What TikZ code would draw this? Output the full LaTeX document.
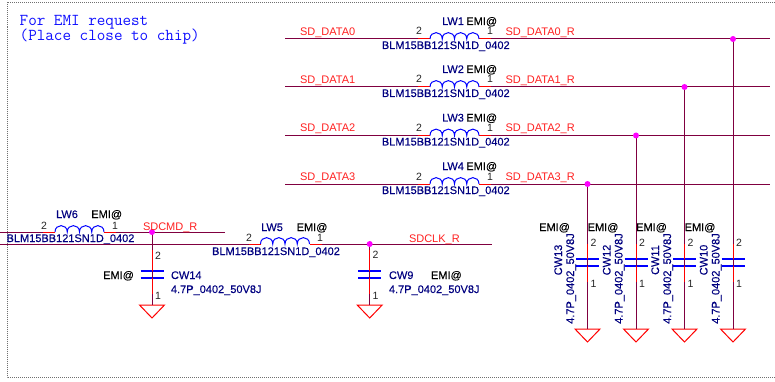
\documentclass[tikz,border=0pt]{standalone}
\usepackage{fontspec}
\setmainfont{Liberation Sans}
\newfontfamily\lblfont[FakeBold=0.12]{Liberation Sans}
\definecolor{wirec}{HTML}{800040}
\definecolor{pinred}{HTML}{FF0000}
\definecolor{netred}{HTML}{FF2020}
\definecolor{partblue}{HTML}{000080}
\definecolor{coilblue}{HTML}{0000FF}
\definecolor{framec}{HTML}{707070}
\definecolor{notec}{HTML}{1010FF}
\definecolor{junc}{HTML}{FF00FF}
\tikzset{
  x=1pt,y=-1pt,
  lbl/.style={inner sep=0pt,outer sep=0pt,text height=8pt,text depth=0pt,font=\fontsize{11}{11}\selectfont},
  refd/.style={lbl,text=partblue,font=\lblfont\fontsize{11}{11}\selectfont},
  emi/.style={lbl,text=black,font=\lblfont\fontsize{11}{11}\selectfont},
  pinno/.style={lbl,text=black!85,font=\fontsize{10.5}{11}\selectfont},
  netl/.style={lbl,text=netred,anchor=west},
  wire/.style={draw=wirec,line width=1pt},
  pinline/.style={draw=pinred,line width=1pt},
  coilline/.style={draw=coilblue,line width=1pt},
  plate/.style={draw=coilblue,line width=1.4pt},
  gnd/.style={draw=pinred,line width=1pt,line join=miter},
  dot/.style={circle,fill=junc,inner sep=0pt,minimum size=6pt},
  frameline/.style={draw=framec,line width=1pt,dash pattern=on 1pt off 1pt},
  notetxt/.style={anchor=west,inner sep=0pt,text=notec,font=\ttfamily\fontsize{16.65}{16}\selectfont}
}
% name, left pin x, y
\newcommand{\inductor}[3]{%
  \coordinate (#1-p2) at (#2,#3);
  \coordinate (#1-a) at (#2+12,#3);
  \coordinate (#1-b) at (#2+61,#3);
  \coordinate (#1-p1) at (#2+73,#3);
  \draw[pinline] (#1-p2) -- (#1-a);
  \draw[pinline] (#1-b) -- (#1-p1);
  \draw[coilline] (#1-a)
    .. controls (#2+12,#3-8.5) and (#2+24.25,#3-8.5) .. (#2+24.25,#3)
    .. controls (#2+24.25,#3-8.5) and (#2+36.5,#3-8.5) .. (#2+36.5,#3)
    .. controls (#2+36.5,#3-8.5) and (#2+48.75,#3-8.5) .. (#2+48.75,#3)
    .. controls (#2+48.75,#3-8.5) and (#2+61,#3-8.5) .. (#1-b);
}
% name, x, y of upper plate, y of lower plate, ground top y, y of upper pin start
\newcommand{\capgnd}[6]{%
  \coordinate (#1-u) at (#2,#3);
  \coordinate (#1-l) at (#2,#4);
  \coordinate (#1-g) at (#2,#5);
  \coordinate (#1-ps) at (#2,#6);
  \coordinate (#1-pe) at (#2,#4+16);
  \draw[plate] ([xshift=-11.5pt]#1-u) -- ([xshift=11.5pt]#1-u);
  \draw[plate] ([xshift=-11.5pt]#1-l) -- ([xshift=11.5pt]#1-l);
  \draw[gnd] ([xshift=-12.5pt]#1-g) -- ([xshift=12.5pt]#1-g) -- ([yshift=-13pt]#1-g) -- cycle;
}
\begin{document}
\begin{tikzpicture}
\useasboundingbox (0,0) rectangle (775,382);
\fill[white] (0,0) rectangle (775,382);
% frame
\coordinate (f1) at (775,2.5);
\coordinate (f2) at (7,2.5);
\coordinate (f3) at (7,377.5);
\coordinate (f4) at (775,377.5);
\draw[frameline] (f1) -- (f2) -- (f3) -- (f4);
\node[notetxt] (note1) at (19.5,22) {For EMI request};
\node[notetxt] (note2) at (19.5,37) {(Place close to chip)};
% data lines
\foreach \n/\d/\y/\xj/\rr/\cc in {1/0/39/733/LW1/CW10,2/1/87/684.5/LW2/CW11,3/2/135.5/636/LW3/CW12,4/3/184/587.5/LW4/CW13}{
  \inductor{lw\n}{418}{\y}
  \coordinate (in\n) at (285,\y);
  \coordinate (end\n) at (770,\y);
  \draw[wire] (in\n) -- (lw\n-p2);
  \draw[wire] (lw\n-p1) -- (end\n);
  \node[netl] (netl\n) at (300,\y-7.5) {SD\_DATA\d};
  \node[netl] (netr\n) at (505.5,\y-7.5) {SD\_DATA\d\_R};
  \node[pinno] (p2\n) at (419,\y-8) {2};
  \node[pinno] (p1\n) at (490,\y-8) {1};
  \node[refd] (ref\n) at (453,\y-18) {\rr};
  \node[emi] (emi\n) at (481.7,\y-18) {EMI@};
  \node[refd] (val\n) at (445.8,\y+6) {BLM15BB121SN1D\_0402};
  \capgnd{c\n}{\xj}{259}{266}{329}{244}
  \coordinate (j\n) at (\xj,\y);
  \draw[wire] (j\n) -- (c\n-g);
  \draw[pinline] (c\n-ps) -- (c\n-u);
  \draw[pinline] (c\n-l) -- (c\n-pe);
  \node[dot] (jd\n) at (j\n) {};
  \node[refd,rotate=90] (cn\n) at (\xj-29.5,260) {\cc};
  \node[refd,rotate=90] (cv\n) at (\xj-17.5,278.5) {4.7P\_0402\_50V8J};
  \node[emi] (ce\n) at (\xj-33,227) {EMI@};
  \node[pinno] (cp2\n) at (\xj+6,242) {2};
  \node[pinno] (cp1\n) at (\xj+6,283) {1};
}
% LW6 / CW14
\inductor{lw6}{43}{232}
\coordinate (cmdin) at (0,232);
\coordinate (cmdend) at (225,232);
\coordinate (cmdj) at (152,232);
\draw[wire] (cmdin) -- (lw6-p2);
\draw[wire] (lw6-p1) -- (cmdend);
\capgnd{c14}{152}{271}{278}{305}{250}
\draw[wire] (cmdj) -- (c14-g);
\draw[pinline] (c14-ps) -- (c14-u);
\draw[pinline] (c14-l) -- (c14-pe);
\node[dot] (cmdd) at (cmdj) {};
\node[refd] (lw6r) at (67,214) {LW6};
\node[emi] (lw6e) at (106.7,214) {EMI@};
\node[pinno] (lw6a) at (44,225) {2};
\node[pinno] (lw6b) at (115,225) {1};
\node[netl] (cmdl) at (143,226) {SDCMD\_R};
\node[refd] (lw6v) at (70.5,238) {BLM15BB121SN1D\_0402};
\node[refd,anchor=west] (c14r) at (171,275) {CW14};
\node[refd,anchor=west] (c14v) at (171,289) {4.7P\_0402\_50V8J};
\node[emi] (c14e) at (118.5,275) {EMI@};
\node[pinno] (c14a) at (158,255) {2};
\node[pinno] (c14b) at (158,295) {1};
% LW5 / CW9
\inductor{lw5}{248.5}{244}
\coordinate (clkin) at (0,244);
\coordinate (clkend) at (491.5,244);
\coordinate (clkj) at (369.7,244);
\draw[wire] (clkin) -- (lw5-p2);
\draw[wire] (lw5-p1) -- (clkend);
\capgnd{c9}{369.7}{271}{278}{305}{250}
\draw[wire] (clkj) -- (c9-g);
\draw[pinline] (c9-ps) -- (c9-u);
\draw[pinline] (c9-l) -- (c9-pe);
\node[dot] (clkd) at (clkj) {};
\node[refd] (lw5r) at (272,227) {LW5};
\node[emi] (lw5e) at (312,227) {EMI@};
\node[pinno] (lw5a) at (249,237) {2};
\node[pinno] (lw5b) at (320,237) {1};
\node[netl] (clkl) at (409,238) {SDCLK\_R};
\node[refd] (lw5v) at (276,251) {BLM15BB121SN1D\_0402};
\node[refd,anchor=west] (c9r) at (389,275) {CW9};
\node[refd,anchor=west] (c9v) at (389,289) {4.7P\_0402\_50V8J};
\node[emi,anchor=west] (c9e) at (431,275) {EMI@};
\node[pinno] (c9a) at (375.5,254) {2};
\node[pinno] (c9b) at (375.5,295) {1};
\end{tikzpicture}
\end{document}
